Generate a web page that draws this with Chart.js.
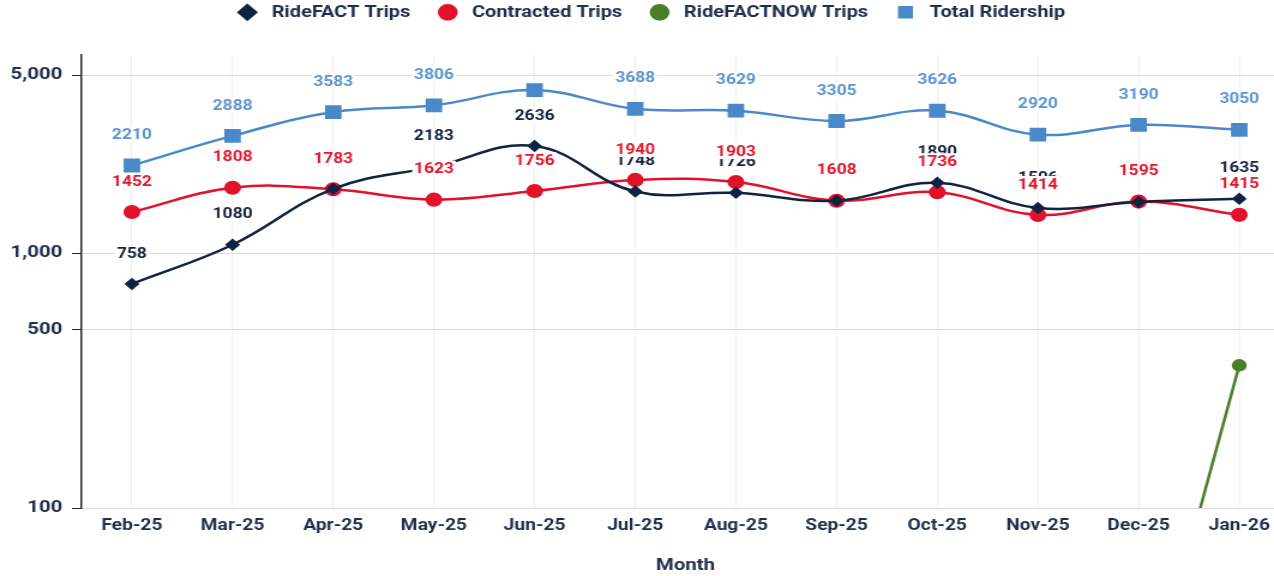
<!DOCTYPE html>
<html>
<head>
<meta charset="utf-8">
<script src="https://cdn.jsdelivr.net/npm/chart.js@4.4.1/dist/chart.umd.min.js"></script>
<style>
html,body{margin:0;padding:0;background:#fff;overflow:hidden;width:1274px;height:576px;}
#wrap{width:1088px;height:576px;transform:scaleX(1.19962);transform-origin:0 0;}
</style>
</head>
<body>
<div id="wrap"><canvas id="c" width="1088" height="576"></canvas></div>
<script>
const months = ['Feb-25','Mar-25','Apr-25','May-25','Jun-25','Jul-25','Aug-25','Sep-25','Oct-25','Nov-25','Dec-25','Jan-26'];
const rideFactTrips = [758,1080,1790,2183,2636,1748,1726,1607,1890,1506,1590,1635];
const contractedTrips = [1452,1808,1783,1623,1756,1940,1903,1608,1736,1414,1595,1415];
const rideFactNowTrips = [null,null,null,null,null,null,null,null,null,null,13,363];
const totalRidership = [2210,2888,3583,3806,4370,3688,3629,3305,3626,2920,3190,3050];
const yTickValues = [100,500,1000,5000];

const NAVY='#0f2342', RED='#e1122a', GREEN='#4b7f2a', BLUE='#4a89c9';
const TXT='#1f2f4d';
const FONT='Roboto';

const layoutPlugin = {
  id:'legendHeight',
  beforeLayout(chart){
    const lg = chart.legend;
    if(lg && !lg._fixedH){
      const orig = lg.fit;
      lg.fit = function(){ orig.call(this); this.height = 55; };
      lg._fixedH = true;
    }
  }
};

const labelPlugin = {
  id:'valueLabels',
  afterDatasetsDraw(chart){
    const ctx=chart.ctx, area=chart.chartArea;
    ctx.save();
    ctx.font='bold 14.5px '+FONT;
    ctx.textAlign='center';
    ctx.textBaseline='middle';
    chart.data.datasets.forEach((ds,di)=>{
      if(!ds.labelColor) return;
      const meta=chart.getDatasetMeta(di);
      meta.data.forEach((el,i)=>{
        const v=ds.data[i];
        if(v==null) return;
        const txt=String(v);
        const x=el.x, y=el.y-31;
        const w=ctx.measureText(txt).width+3, h=16;
        if(y-h/2<area.top) return;
        ctx.fillStyle='#fff';
        ctx.fillRect(x-w/2,y-h/2,w,h);
        ctx.fillStyle=ds.labelColor;
        ctx.fillText(txt,x,y+1);
      });
    });
    ctx.restore();
  }
};

new Chart(document.getElementById('c'),{
  type:'line',
  data:{
    labels:months,
    datasets:[
      {label:'RideFACT Trips',data:rideFactTrips,borderColor:NAVY,backgroundColor:NAVY,pointStyle:'rectRot',pointRadius:4.5,borderWidth:2.5,tension:0.4,labelColor:'#14223d'},
      {label:'Contracted Trips',data:contractedTrips,borderColor:RED,backgroundColor:RED,pointStyle:'circle',pointRadius:5.8,borderWidth:2.5,tension:0.4,labelColor:'#e2162c'},
      {label:'RideFACTNOW Trips',data:rideFactNowTrips,borderColor:GREEN,backgroundColor:GREEN,pointStyle:'circle',pointRadius:5,borderWidth:2.5,tension:0},
      {label:'Total Ridership',data:totalRidership,borderColor:BLUE,backgroundColor:BLUE,pointStyle:'rect',pointRadius:8,borderWidth:2.5,tension:0.4,labelColor:'#5b95d0'}
    ]
  },
  options:{
    responsive:false,
    animation:false,
    devicePixelRatio:1,
    layout:{padding:0},
    plugins:{
      legend:{
        position:'top',
        labels:{
          usePointStyle:true,boxWidth:12,boxHeight:10,padding:4,color:TXT,
          font:{family:FONT,weight:'bold',size:16.7},
          generateLabels(chart){
            const items = Chart.defaults.plugins.legend.labels.generateLabels(chart);
            items.forEach((it,i)=>{ it.text = ' \u200A'+it.text + (i<items.length-1 ? '\u2003 ' : ''); });
            return items;
          }
        }
      },
      tooltip:{enabled:false}
    },
    scales:{
      x:{
        type:'category',
        offset:true,
        afterFit(s){ s.height=68; s.paddingRight=13; },
        ticks:{color:TXT,font:{family:FONT,weight:'bold',size:16},padding:8,maxRotation:0,autoSkip:false},
        grid:{color:'#efefef',drawTicks:false,offset:false},
        border:{display:false},
        title:{display:true,text:'Month',color:TXT,font:{family:FONT,weight:'bold',size:17},padding:{top:4,bottom:0}}
      },
      y:{
        type:'logarithmic',
        min:100,max:6000,
        afterBuildTicks(s){ s.ticks = yTickValues.map(v=>({value:v})); },
        afterFit(s){ s.width=68; },
        ticks:{callback:(v)=>Number(v).toLocaleString('en-US'),color:TXT,font:{family:FONT,weight:'bold',size:17},padding:8},
        grid:{color:'#dcdcdc',tickColor:'#222',tickLength:8},
        border:{display:true,color:'#222',width:1.5}
      }
    }
  },
  plugins:[layoutPlugin,labelPlugin]
});
</script>
</body>
</html>
